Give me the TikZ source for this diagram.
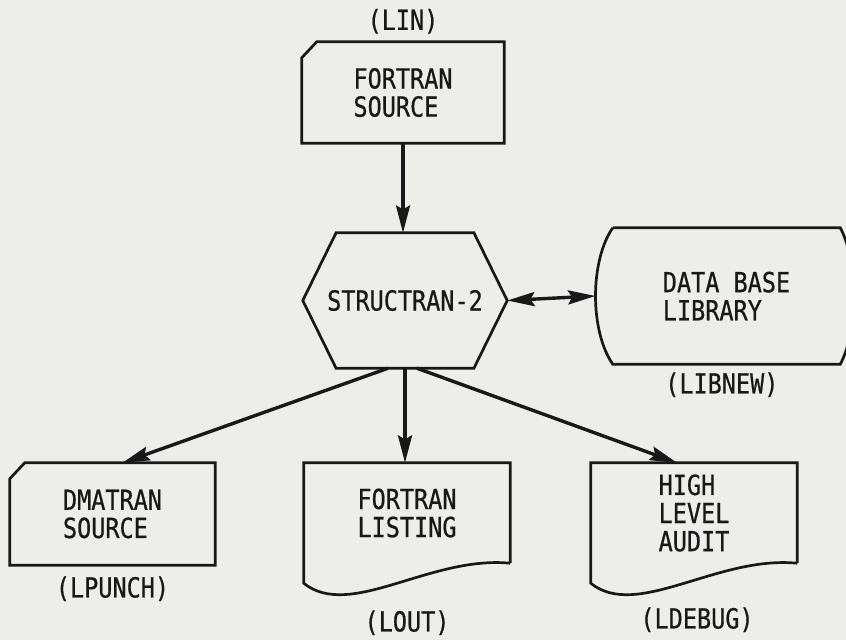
\documentclass[tikz,border=0pt]{standalone}
\usepackage{fontspec}
\usetikzlibrary{arrows.meta}
\usetikzlibrary{positioning}
\newfontfamily\prnfont[FakeStretch=0.85, FakeBold=0.6]{DejaVu Sans Mono}
\definecolor{paper}{RGB}{237,237,233}
\definecolor{ink}{RGB}{24,24,24}

\tikzset{
    box/.style={minimum width=6.06cm, minimum height=3.03cm, inner sep=0pt, align=left},
    outline/.style={draw=ink, line width=2.3pt},
    flow/.style={draw=ink, line width=2.9pt, ->},
    file/.style={inner sep=0pt},
}

\begin{document}
\begin{tikzpicture}[x=0.03cm, y=-0.03cm,
    font=\prnfont\fontsize{23.6}{24}\selectfont, text=ink,
    >={Stealth[length=0.82cm, width=0.42cm, inset=0.12cm]}]
    \fill[paper] (0,0) rectangle (846,640);
    \useasboundingbox (0,0) rectangle (846,640);

    \node (src) [box] at (403,92.5) {FORTRAN\\SOURCE};
    \node (hex) [box, minimum width=6.12cm, minimum height=4.05cm] at (405,300.5) {STRUCTRAN-2};
    \node (lib) [box, minimum width=6.81cm, minimum height=4.08cm] at (726.5,296) {DATA BASE\\LIBRARY};
    \node (dma) [box, minimum width=6.15cm, minimum height=3.06cm] at (112.5,514) {DMATRAN\\SOURCE};
    \node (lst) [box, minimum width=6.18cm, minimum height=3cm] at (407,513) {FORTRAN\\LISTING};
    \node (aud) [box, minimum width=6.18cm, minimum height=3cm] at (694,513) {HIGH\\LEVEL\\AUDIT};

    % file names under (or over) the boxes
    \node (lin) [file, above=0.24cm of src] {(LIN)};
    \node (libnew) [file, below=0.24cm of lib, xshift=-0.14cm] {(LIBNEW)};
    \node (lpunch) [file, below=0.33cm of dma] {(LPUNCH)};
    \node (lout) [file, below=1.41cm of lst] {(LOUT)};
    \node (ldebug) [file, below=1.32cm of aud, xshift=0.09cm] {(LDEBUG)};

    % punched cards
    \draw[outline] ([yshift=-0.48cm]src.north west) -- ([xshift=0.45cm]src.north west) -- (src.north east)
        -- (src.south east) -- (src.south west) -- cycle;
    \draw[outline] ([yshift=-0.48cm]dma.north west) -- ([xshift=0.45cm]dma.north west) -- (dma.north east)
        -- (dma.south east) -- (dma.south west) -- cycle;

    % process
    \draw[outline] (hex.west) -- ([xshift=1cm]hex.north west) -- ([xshift=-1cm]hex.north east) -- (hex.east)
        -- ([xshift=-1cm]hex.south east) -- ([xshift=1cm]hex.south west) -- cycle;

    % stored data
    \draw[outline] (lib.north west) -- (lib.north east) .. controls +(0.54cm,-1cm) and +(0.54cm,1cm) .. (lib.south east)
        -- (lib.south west) .. controls +(-0.69cm,1cm) and +(-0.69cm,-1cm) .. (lib.north west);

    % printed output
    \draw[outline] (lst.south east) -- (lst.north east) -- (lst.north west) -- ([yshift=-0.6cm]lst.south west)
        .. controls +(1.38cm,-1.11cm) and +(-2.4cm,0.24cm) .. (lst.south east);
    \draw[outline] (aud.south east) -- (aud.north east) -- (aud.north west) -- ([yshift=-0.6cm]aud.south west)
        .. controls +(1.38cm,-1.11cm) and +(-2.4cm,0.24cm) .. (aud.south east);

    \draw[flow] (src.south) -- (src.south |- hex.north);
    \draw[flow, <->] (hex.east) -- ([xshift=-0.52cm]lib.west);
    \draw[flow] ([xshift=-0.51cm]hex.south) -- ([xshift=0.3cm]dma.north);
    \draw[flow] (hex.south) -- (hex.south |- lst.north);
    \draw[flow] ([xshift=0.36cm]hex.south) -- ([xshift=-0.51cm]aud.north);
\end{tikzpicture}
\end{document}
